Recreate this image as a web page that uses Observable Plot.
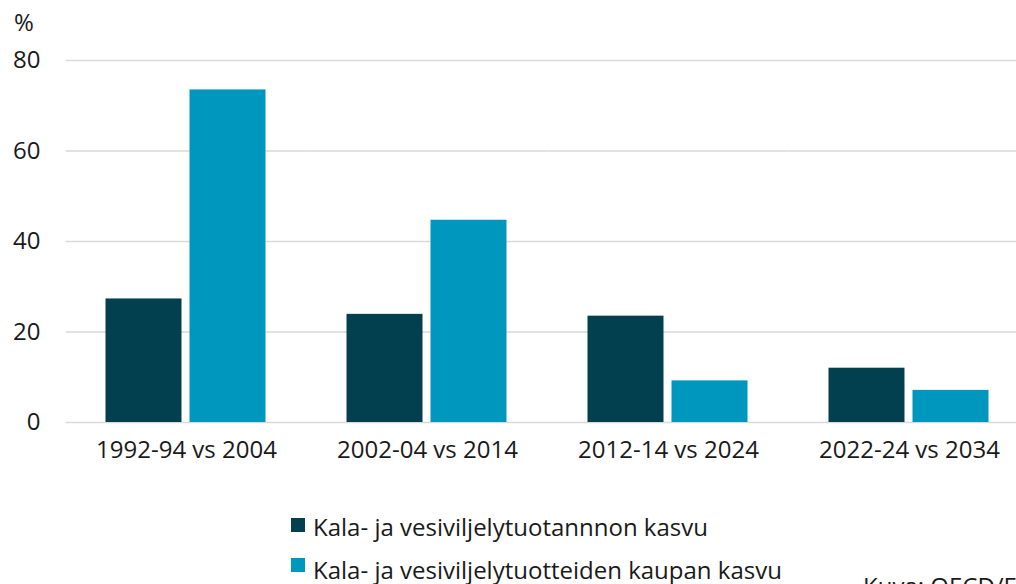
<!DOCTYPE html>
<html>
<head>
<meta charset="utf-8">
<script src="https://cdn.jsdelivr.net/npm/d3@7"></script>
<script src="https://cdn.jsdelivr.net/npm/@observablehq/plot@0.6"></script>
<style>
  html, body { margin: 0; padding: 0; background: #fff; overflow: hidden; width: 1016px; height: 584px; }
  body { position: relative; font-family: "Open Sans", sans-serif; color: #1a1a1a; }
  #chart { position: absolute; left: 0; top: 0; width: 1040px; }
  .abs { position: absolute; font-size: 24px; line-height: 24px; white-space: nowrap; }
  .sw { position: absolute; width: 14px; height: 14px; }
</style>
</head>
<body>
<div id="chart"></div>
<div class="abs" id="unit" style="left:14px; top:10px;">%</div>
<div id="legend"></div>
<div class="abs" style="left:863px; top:574px;">Kuva: OECD/FAO</div>
<script>
const periods = ["1992-94 vs 2004", "2002-04 vs 2014", "2012-14 vs 2024", "2022-24 vs 2034"];
const seriesNames = ["Kala- ja vesiviljelytuotannnon kasvu", "Kala- ja vesiviljelytuotteiden kaupan kasvu"];
const production = [27.3, 23.9, 23.5, 12.0];
const trade = [73.5, 44.7, 9.2, 7.1];
const yTicks = [0, 20, 40, 60, 80];
const colors = ["#02404f", "#0097be"];

const data = periods.flatMap((p, i) => [
  {period: p, series: seriesNames[0], value: production[i]},
  {period: p, series: seriesNames[1], value: trade[i]}
]);

const chart = Plot.plot({
  width: 1040,
  height: 480,
  marginLeft: 65.5,
  marginRight: 10.5,
  marginTop: 60,
  marginBottom: 58,
  style: {fontFamily: "Open Sans", fontSize: "24px", color: "#1a1a1a", background: "#fff", maxWidth: "none"},
  fx: {domain: periods, paddingInner: 0.328, paddingOuter: 0.164, label: null, axis: "bottom", tickSize: 0, tickPadding: 18},
  x: {domain: seriesNames, paddingInner: 0.09, paddingOuter: 0, axis: null},
  y: {domain: [0, 80], ticks: yTicks, tickSize: 0, tickPadding: 65, label: null},
  color: {domain: seriesNames, range: colors},
  marks: [
    Plot.ruleY(yTicks, {stroke: "#d9d9d9", strokeWidth: 1.5, insetLeft: -39.5, insetRight: -39.5}),
    Plot.barY(data, {fx: "period", x: "series", y: "value", fill: "series"})
  ]
});
document.getElementById("chart").appendChild(chart);

const legend = document.getElementById("legend");
seriesNames.forEach((name, i) => {
  const sw = document.createElement("div");
  sw.className = "sw";
  sw.style.left = "291px";
  sw.style.top = (518 + i * 40) + "px";
  sw.style.background = colors[i];
  legend.appendChild(sw);
  const t = document.createElement("div");
  t.className = "abs";
  t.style.left = "313px";
  t.style.top = (514.5 + i * 43.3) + "px";
  t.textContent = name;
  legend.appendChild(t);
});
</script>
</body>
</html>
